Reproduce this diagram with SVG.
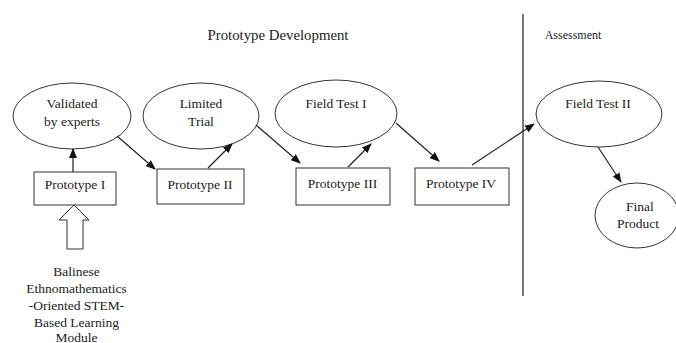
<svg xmlns="http://www.w3.org/2000/svg" width="676" height="343" viewBox="0 0 676 343">
<style>
text{font-family:"Liberation Serif","Times New Roman",serif;font-size:13.5px;fill:#222;text-anchor:middle}
.shape{fill:#fff;stroke:#333;stroke-width:1}
.conn{stroke:#222;stroke-width:1.2;fill:none;marker-end:url(#ah)}
</style>
<defs>
<marker id="ah" markerWidth="10" markerHeight="8" refX="9" refY="4" orient="auto" markerUnits="userSpaceOnUse">
<path d="M0,0 L10,4 L0,8 Z" fill="#111"/>
</marker>
</defs>
<rect width="676" height="343" fill="#fff"/>
<text x="278" y="40" style="font-size:14.8px">Prototype Development</text>
<text x="573" y="39" style="font-size:12px">Assessment</text>
<line x1="523" y1="14" x2="523" y2="296" stroke="#777" stroke-width="2"/>
<g id="validated"><ellipse class="shape" cx="72" cy="116" rx="59" ry="33"/><text x="72" y="108">Validated</text><text x="72" y="126">by experts</text></g>
<g id="limited"><ellipse class="shape" cx="201" cy="116" rx="58" ry="33"/><text x="201" y="108">Limited</text><text x="201" y="126">Trial</text></g>
<g id="field1"><ellipse class="shape" cx="336" cy="113.5" rx="61" ry="33.5"/><text x="336" y="108">Field Test I</text></g>
<g id="field2"><ellipse class="shape" cx="599" cy="114" rx="63" ry="33"/><text x="598" y="108">Field Test II</text></g>
<g id="final"><ellipse class="shape" cx="637" cy="215.5" rx="42" ry="32.5"/><text x="640" y="211">Final</text><text x="638" y="228">Product</text></g>
<g id="proto1"><rect class="shape" x="34" y="172" width="82" height="33"/><text x="75" y="189">Prototype I</text></g>
<g id="proto2"><rect class="shape" x="157" y="169" width="87" height="35"/><text x="200" y="189">Prototype II</text></g>
<g id="proto3"><rect class="shape" x="296" y="168" width="94" height="37"/><text x="342.5" y="188">Prototype III</text></g>
<g id="proto4"><rect class="shape" x="415" y="168" width="94" height="37"/><text x="461" y="188">Prototype IV</text></g>
<g id="module">
<path class="shape" d="M74,205 L89,220 L83,220 L83,249 L67,249 L67,220 L59,220 Z"/>
<text x="76.5" y="275.5">Balinese</text>
<text x="76.5" y="292.5">Ethnomathematics</text>
<text x="76.5" y="309.5">-Oriented STEM-</text>
<text x="76.5" y="326.5">Based Learning</text>
<text x="76.5" y="341.5">Module</text>
</g>
<g id="connectors">
<line class="conn" x1="73" y1="172" x2="73" y2="149"/>
<line class="conn" x1="117" y1="136" x2="155" y2="169"/>
<line class="conn" x1="208" y1="168" x2="232" y2="144"/>
<line class="conn" x1="256" y1="125" x2="300" y2="163"/>
<line class="conn" x1="348" y1="167" x2="371" y2="144"/>
<line class="conn" x1="396" y1="123" x2="439" y2="161"/>
<line class="conn" x1="472" y1="165" x2="534" y2="124"/>
<line class="conn" x1="598" y1="147" x2="621" y2="182"/>
</g>
</svg>
